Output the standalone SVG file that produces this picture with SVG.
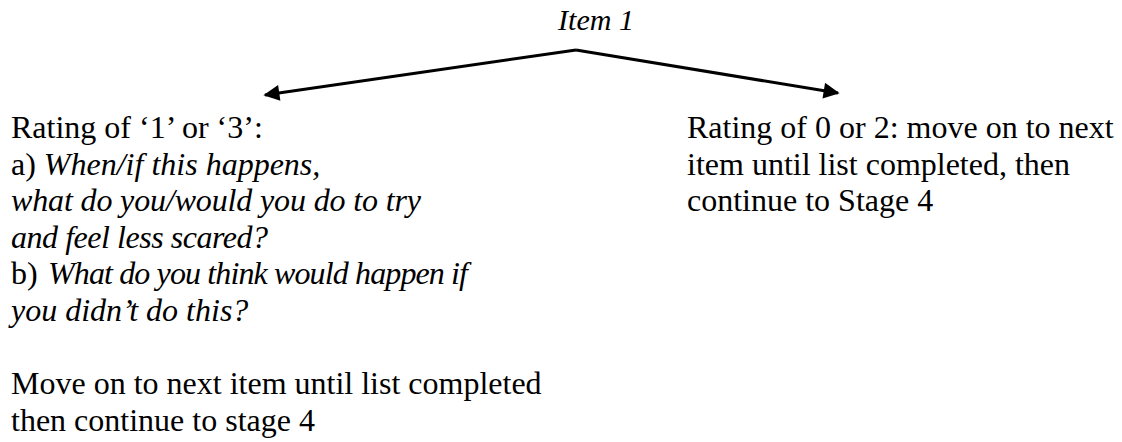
<svg xmlns="http://www.w3.org/2000/svg" width="1122" height="442" viewBox="0 0 1122 442">
<style>
text{font-family:"Liberation Serif","Times New Roman",serif;font-size:32px;fill:#000}
.i{font-style:italic}
.c{fill:none;stroke:#000;stroke-width:3}
</style>
<defs>
<marker id="ah" viewBox="0 0 10 10" refX="9" refY="5" markerWidth="18" markerHeight="16" markerUnits="userSpaceOnUse" orient="auto">
<path d="M0,0 L10,5 L0,10 z" fill="#000"/>
</marker>
</defs>
<rect width="1122" height="442" fill="#fff"/>
<g id="item1"><text class="i" x="596" y="30" text-anchor="middle" style="font-size:30px">Item 1</text></g>
<g id="connectors">
<path class="c" d="M576,50 L265,95" marker-end="url(#ah)"/>
<path class="c" d="M576,50 L838,93" marker-end="url(#ah)"/>
</g>
<g id="left">
<text x="11" y="138">Rating of ‘1’ or ‘3’:</text>
<text x="11" y="174.5">a) <tspan class="i">When/if this happens,</tspan></text>
<text x="11" y="211" class="i" textLength="410" lengthAdjust="spacing">what do you/would you do to try</text>
<text x="11" y="247.5" class="i" textLength="257" lengthAdjust="spacing">and feel less scared?</text>
<text x="11" y="284">b) <tspan class="i" x="48" textLength="420" lengthAdjust="spacing">What do you think would happen if</tspan></text>
<text x="11" y="320.5" class="i">you didn’t do this?</text>
<text x="11" y="394">Move on to next item until list completed</text>
<text x="11" y="430.5">then continue to stage 4</text>
</g>
<g id="right">
<text x="687" y="138">Rating of 0 or 2: move on to next</text>
<text x="687" y="174.5">item until list completed, then</text>
<text x="687" y="211">continue to Stage 4</text>
</g>
</svg>
